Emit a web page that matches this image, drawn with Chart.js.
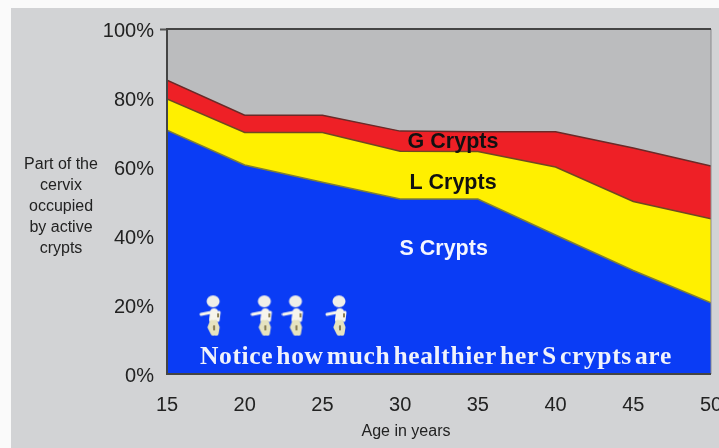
<!DOCTYPE html>
<html>
<head>
<meta charset="utf-8">
<script src="https://cdn.jsdelivr.net/npm/chart.js@4/dist/chart.umd.min.js"></script>
<style>
  html, body { margin: 0; padding: 0; background: #d2d3d5; overflow: hidden; }
  #wrap { position: absolute; left: 0; top: 0; width: 719px; height: 448px; filter: blur(0.4px); }
  #topStrip { position: absolute; left: 0; top: 0; width: 719px; height: 8px; background: #fafafa; }
  #leftStrip { position: absolute; left: 0; top: 0; width: 11px; height: 448px; background: #fafafa; }
</style>
</head>
<body>
<div id="wrap"><canvas id="myChart" width="719" height="448"></canvas></div>
<div id="topStrip"></div>
<div id="leftStrip"></div>
<script>
"use strict";

const ages = [15, 20, 25, 30, 35, 40, 45, 50];
const sCrypts = [70.7, 60.6, 55.6, 50.7, 50.7, 40.3, 30, 20.6];
const lCrypts = [79.7, 70, 70, 64.6, 64.5, 60, 50, 45];
const gCrypts = [85.2, 75, 75, 70.4, 70.2, 70.2, 65.5, 60.3];
const yTicks = [0, 20, 40, 60, 80, 100];
const figureAges = [17.9, 21.2, 23.2, 26];
const figureLevels = [17, 17, 17, 17];

// small white figure used as the point style
function makeFigure() {
  const c = document.createElement("canvas");
  c.width = 26;
  c.height = 42;
  const g = c.getContext("2d");
  g.filter = "blur(0.6px)";
  g.lineCap = "round";
  g.fillStyle = "#efeee8";
  g.beginPath();
  g.ellipse(14, 7, 6.5, 6, 0, 0, Math.PI * 2);
  g.fill();
  g.strokeStyle = "#f7f5ec";
  g.lineWidth = 8;
  g.beginPath();
  g.moveTo(15, 18);
  g.lineTo(14, 25);
  g.stroke();
  g.lineWidth = 3;
  g.beginPath();
  g.moveTo(12, 18);
  g.lineTo(2, 20);
  g.moveTo(20, 18);
  g.lineTo(19, 26);
  g.stroke();
  g.lineWidth = 5;
  g.strokeStyle = "#e6e3bf";
  g.beginPath();
  g.moveTo(13, 28);
  g.lineTo(11, 33);
  g.lineTo(14, 39);
  g.moveTo(16, 28);
  g.lineTo(18, 33);
  g.lineTo(17, 39);
  g.stroke();
  g.fillStyle = "#8a7f55";
  g.fillRect(18, 19, 2, 4);
  g.fillRect(14, 31, 2, 5);
  return c;
}

function areaSet(values, fillColor, lineColor) {
  return {
    type: "line",
    data: ages.map((a, i) => ({ x: a, y: values[i] })),
    borderColor: lineColor,
    borderWidth: 1.5,
    backgroundColor: fillColor,
    fill: "origin",
    pointRadius: 0,
    tension: 0,
  };
}

// labels placed in data units
const labels = [
  { text: "G Crypts", x: 33.4, y: 67.2, color: "#111111", font: "bold 21.5px 'Liberation Sans'" },
  { text: "L Crypts", x: 33.4, y: 55.2, color: "#111111", font: "bold 21.5px 'Liberation Sans'" },
  { text: "S Crypts", x: 32.8, y: 36.3, color: "#f4f6ff", font: "bold 21.5px 'Liberation Sans'" },
  { text: "Notice how much healthier her S crypts are", x: 32.3, y: 4.7, color: "#f0f2fb", font: "bold 25.5px 'Liberation Serif'", letterGap: "0.65px", wordGap: "-3.9px" },
];

const plotPlugin = {
  id: "plotPlugin",
  beforeDatasetsDraw(chart) {
    const { ctx, chartArea: a } = chart;
    ctx.save();
    ctx.fillStyle = "#bbbcbe";
    ctx.fillRect(a.left, a.top, a.right - a.left, a.bottom - a.top);
    ctx.restore();
  },
  afterDatasetsDraw(chart) {
    const { ctx, scales, chartArea: a } = chart;
    ctx.save();
    // plot frame
    ctx.strokeStyle = "#8a8b8d";
    ctx.lineWidth = 1;
    ctx.beginPath();
    ctx.moveTo(a.right, a.top);
    ctx.lineTo(a.right, a.bottom);
    ctx.stroke();
    ctx.strokeStyle = "#444444";
    ctx.lineWidth = 2;
    ctx.beginPath();
    ctx.moveTo(a.right, a.top);
    ctx.lineTo(a.left, a.top);
    ctx.lineTo(a.left, a.bottom);
    ctx.lineTo(a.right, a.bottom);
    ctx.stroke();

    ctx.textAlign = "center";
    ctx.textBaseline = "middle";
    labels.forEach((l) => {
      ctx.font = l.font;
      ctx.fillStyle = l.color;
      ctx.letterSpacing = l.letterGap || "0px";
      ctx.wordSpacing = l.wordGap || "0px";
      ctx.fillText(l.text, scales.x.getPixelForValue(l.x), scales.y.getPixelForValue(l.y));
    });
    ctx.letterSpacing = "0px";
    ctx.wordSpacing = "0px";
    // axis captions
    ctx.fillStyle = "#222222";
    ctx.font = "16px 'Liberation Sans'";
    ["Part of the", "cervix", "occupied", "by active", "crypts"].forEach((t, i) => {
      ctx.fillText(t, 61, 165 + i * 21);
    });
    ctx.fillText("Age in years", 406, 432);
    ctx.restore();
  },
};

const ctx = document.getElementById("myChart").getContext("2d");
const myChart = new Chart(ctx, {
  type: "line",
  data: {
    datasets: [
      {
        type: "scatter",
        data: figureAges.map((a, i) => ({ x: a, y: figureLevels[i] })),
        pointStyle: makeFigure(),
        showLine: false,
      },
      areaSet(sCrypts, "#0a3cf5", "#7f7f35"),
      areaSet(lCrypts, "#fff000", "#6e4a20"),
      areaSet(gCrypts, "#ee2026", "#6a2a28"),
    ],
  },
  plugins: [plotPlugin],
  options: {
    responsive: false,
    animation: false,
    layout: { padding: { left: 0, right: 8, top: 29, bottom: 0 } },
    plugins: { legend: { display: false }, tooltip: { enabled: false } },
    scales: {
      x: {
        type: "linear",
        min: 15,
        max: 50,
        afterBuildTicks: (axis) => { axis.ticks = ages.map((v) => ({ value: v })); },
        afterFit: (axis) => { axis.height = 74; axis.paddingLeft = 0; axis.paddingRight = 0; },
        grid: { display: false, drawTicks: false },
        border: { display: false },
        ticks: { color: "#222222", font: { family: "Liberation Sans", size: 20 }, padding: 19, maxRotation: 0, autoSkip: false },
      },
      y: {
        min: 0,
        max: 100,
        position: "left",
        afterBuildTicks: (axis) => { axis.ticks = yTicks.map((v) => ({ value: v })); },
        afterFit: (axis) => { axis.width = 167; axis.paddingTop = 0; axis.paddingBottom = 0; },
        grid: {
          drawOnChartArea: false,
          tickLength: 7,
          tickWidth: 2,
          tickColor: (c) => (c.tick.value === 100 ? "#555555" : "rgba(0,0,0,0)"),
        },
        border: { display: false },
        ticks: { color: "#222222", font: { family: "Liberation Sans", size: 20 }, padding: 6, labelOffset: 2, callback: (v) => v + "%" },
      },
    },
  },
});
</script>
</body>
</html>
